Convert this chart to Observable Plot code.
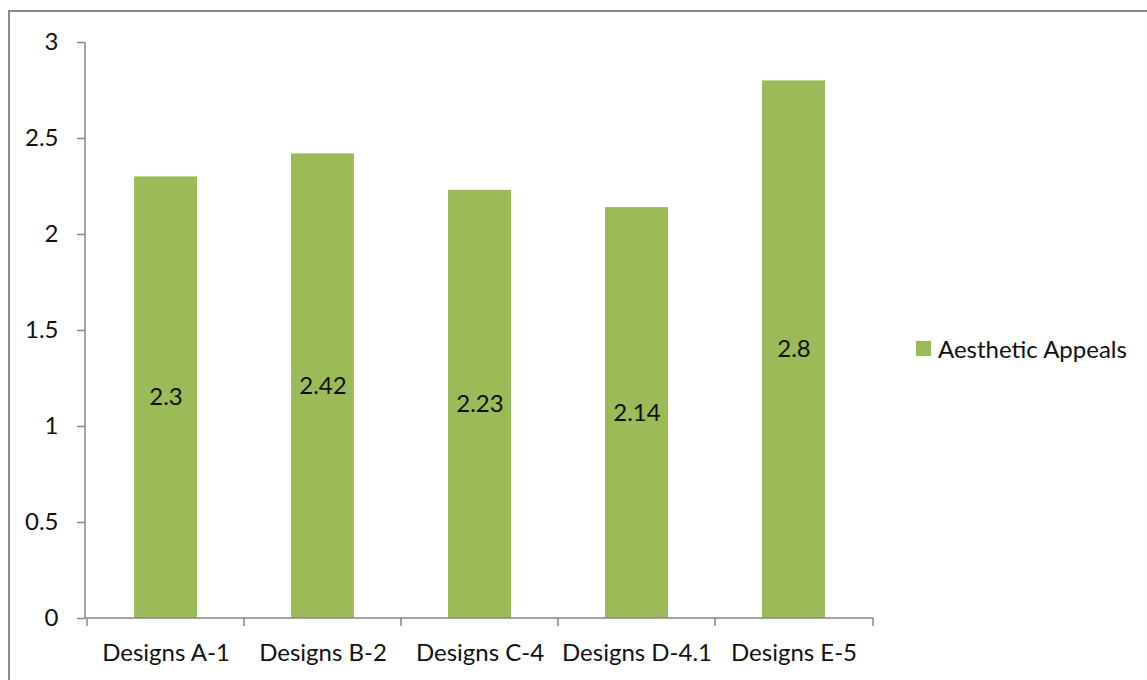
<!DOCTYPE html>
<html>
<head>
<meta charset="utf-8">
<script src="https://cdn.jsdelivr.net/npm/d3@7"></script>
<script src="https://cdn.jsdelivr.net/npm/@observablehq/plot@0.6"></script>
<style>
  html, body { margin: 0; padding: 0; background: #fff; }
  #wrap { position: relative; width: 1147px; height: 680px; overflow: hidden; font-family: Lato, sans-serif; }
  #border { position: absolute; left: 8px; top: 10px; width: 1200px; height: 800px; border-left: 2px solid #8a8a8a; border-top: 2px solid #8a8a8a; box-sizing: border-box; }
  #legend { position: absolute; left: 916px; top: 334px; display: flex; align-items: center; font-size: 24px; color: #111; }
  #legend .sw { width: 15px; height: 15px; background: #9BBB59; margin-right: 7px; }
  svg { position: absolute; left: 0; top: 0; }
</style>
</head>
<body>
<div id="wrap"><div id="border"></div></div>
<script>
const categories = ["Designs A-1", "Designs B-2", "Designs C-4", "Designs D-4.1", "Designs E-5"];
const values = [2.3, 2.42, 2.23, 2.14, 2.8];
const yTicks = [0, 0.5, 1, 1.5, 2, 2.5, 3];
const seriesName = "Aesthetic Appeals";

const data = categories.map((c, i) => ({category: c, value: values[i]}));
const axisColor = "#868686";

const edgeTicks = (index, scales, values, dims) => {
  const x = scales.x, y = scales.y;
  const step = x.step();
  const g = d3.create("svg:g").attr("stroke", axisColor).attr("stroke-width", 1.5);
  const x0 = dims.marginLeft, x1 = dims.width - dims.marginRight;
  const yb = y(0), yt = y(3);
  g.append("line").attr("x1", x0).attr("x2", x0).attr("y1", yt).attr("y2", yb);
  g.append("line").attr("x1", x0).attr("x2", x1).attr("y1", yb).attr("y2", yb);
  const edges = categories.map(c => x(c) - (step - x.bandwidth()) / 2);
  edges.push(x1);
  for (const e of edges) {
    g.append("line").attr("x1", e).attr("x2", e).attr("y1", yb).attr("y2", yb + 8);
  }
  return g.node();
};

const chart = Plot.plot({
  width: 1147,
  height: 680,
  marginLeft: 85,
  marginRight: 274,
  marginTop: 42,
  marginBottom: 62,
  style: {fontFamily: "Lato, sans-serif", fontSize: "24px", color: "#111", background: "transparent"},
  x: {domain: categories, paddingInner: 0.6, paddingOuter: 0.3, label: null},
  y: {domain: [0, 3], label: null},
  marks: [
    Plot.axisY({ticks: yTicks, tickFormat: d => String(d), tickSize: 8, tickPadding: 19, stroke: axisColor, strokeWidth: 1.5, fontSize: 24}),
    Plot.axisX({tickSize: 0, tickPadding: 25, fontSize: 24}),
    Plot.barY(data, {x: "category", y: "value", fill: "#9BBB59"}),
    Plot.text(data, {x: "category", y: d => d.value / 2, text: d => String(d.value), fontSize: 24, fill: "#111"}),
    edgeTicks
  ]
});
document.getElementById("wrap").appendChild(chart);

const legend = document.createElement("div");
legend.id = "legend";
legend.innerHTML = `<div class="sw"></div><span></span>`;
legend.querySelector("span").textContent = seriesName;
document.getElementById("wrap").appendChild(legend);
</script>
</body>
</html>
